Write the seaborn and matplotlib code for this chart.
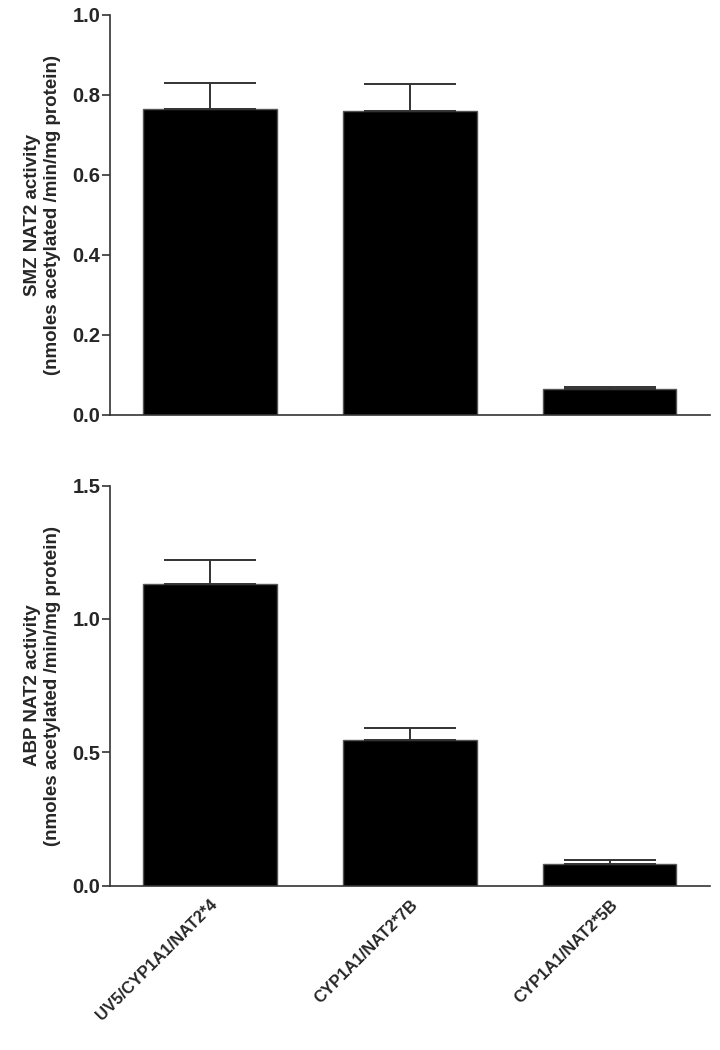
import matplotlib
matplotlib.use("Agg")
import matplotlib.pyplot as plt
import numpy as np
import pandas as pd
import seaborn as sns

# datos
cepas = ["UV5/CYP1A1/NAT2*4", "CYP1A1/NAT2*7B", "CYP1A1/NAT2*5B"]
smz_media = [0.764, 0.759, 0.064]
smz_error = [0.065, 0.069, 0.006]
abp_media = [1.13, 0.548, 0.082]
abp_error = [0.09, 0.044, 0.013]

sns.set_theme(style="ticks")
plt.rcParams["font.family"] = ["Liberation Sans", "DejaVu Sans"]
plt.rcParams["font.weight"] = "bold"
fuente = ["Liberation Sans", "DejaVu Sans"]

fig = plt.figure(figsize=(7.2, 10.5), dpi=100)
ax1 = fig.add_axes([0.1528, 0.6048, 0.833, 0.381])
ax2 = fig.add_axes([0.1528, 0.1565, 0.833, 0.381])

paneles = [
    (ax1, smz_media, smz_error, "SMZ NAT2 activity", np.arange(0, 1.01, 0.2), 1.0),
    (ax2, abp_media, abp_error, "ABP NAT2 activity", np.arange(0, 1.51, 0.5), 1.5),
]

for ax, media, error, titulo, ticks, ymax in paneles:
    df = pd.DataFrame({"cepa": cepas, "actividad": media})
    sns.barplot(data=df, x="cepa", y="actividad", ax=ax, color="black",
                width=0.667, errorbar=None, edgecolor="#555555", linewidth=1.0,
                saturation=1)
    pos = np.arange(len(cepas))
    # solo la parte superior del error (estilo GraphPad)
    ax.errorbar(pos, media, yerr=[np.zeros(len(error)), error], fmt="none",
                ecolor="#333333", elinewidth=1.4, capsize=33, capthick=1.4)
    ax.set_xlim(-0.5, 2.5)
    ax.set_ylim(0, ymax)
    ax.set_yticks(ticks)
    ax.set_yticklabels([f"{t:.1f}" for t in ticks], fontsize=14.5,
                       fontweight="bold", family=fuente)
    ax.set_ylabel(f"{titulo}\n(nmoles acetylated /min/mg protein)", fontsize=13.5,
                  fontweight="bold", family=fuente, labelpad=8, linespacing=1.25)
    ax.set_xlabel("")
    sns.despine(ax=ax)
    for s in ["left", "bottom"]:
        ax.spines[s].set_color("#333333")
        ax.spines[s].set_linewidth(1.2)
    ax.tick_params(axis="y", length=6, width=1.2, color="#333333", pad=1)
    ax.tick_params(axis="x", length=0)

ax1.set_xticklabels([])
ax2.set_xticks(range(len(cepas)))
ax2.set_xticklabels(cepas, rotation=45, ha="right", rotation_mode="anchor",
                    fontsize=12, fontweight="bold", family=fuente)
ax2.tick_params(axis="x", pad=8)

fig.savefig("out.png", dpi=100)
